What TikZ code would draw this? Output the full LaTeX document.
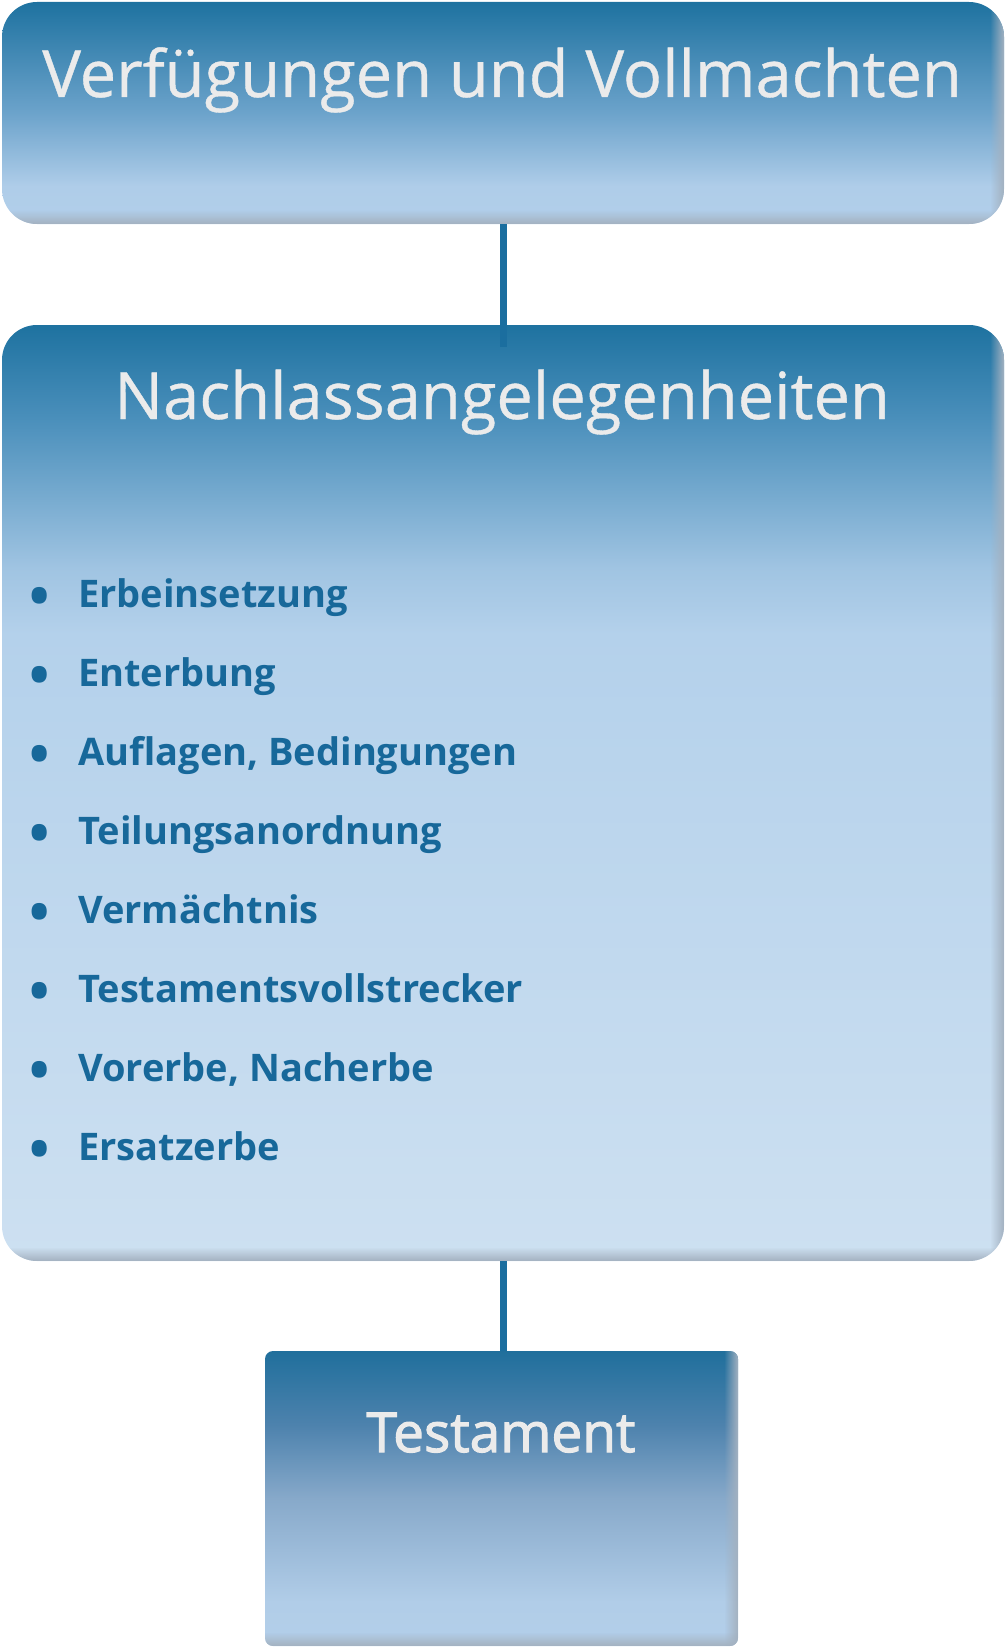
\documentclass[tikz,border=0pt]{standalone}
\usepackage{fontspec}
\setmainfont{Open Sans}
\newfontfamily\titlefont[FakeBold=0.6]{Open Sans}
\newfontfamily\semibfont[FakeBold=2]{Open Sans}
\usetikzlibrary{fadings}

\definecolor{titlewhite}{HTML}{EBEBEB}
\definecolor{itemblue}{HTML}{17689A}
\definecolor{connblue}{HTML}{1B6E9F}
\definecolor{edgegray}{HTML}{A3B1C0}

\definecolor{ta}{HTML}{1E72A0}
\definecolor{tb}{HTML}{6CA3CB}
\definecolor{tc}{HTML}{AFCDE9}
\definecolor{td}{HTML}{B2CFEA}

\definecolor{na}{HTML}{1E72A0}
\definecolor{nb}{HTML}{4A8FBB}
\definecolor{nc}{HTML}{A0C4E2}
\definecolor{nd}{HTML}{B4D1EB}
\definecolor{ne}{HTML}{CDE0F1}

\definecolor{sa}{HTML}{206F9C}
\definecolor{sb}{HTML}{4D82AD}
\definecolor{sc}{HTML}{87A9CA}
\definecolor{sd}{HTML}{B1CDE8}
\definecolor{se}{HTML}{B3CFE9}

\pgfdeclareverticalshading{topshade}{100bp}{color(0bp)=(td); color(25bp)=(td); color(33.5bp)=(tc); color(50bp)=(tb); color(75bp)=(ta); color(100bp)=(ta)}
\pgfdeclareverticalshading{nachshade}{100bp}{color(0bp)=(ne); color(25bp)=(ne); color(58.5bp)=(nd); color(62bp)=(nc); color(70bp)=(nb); color(75bp)=(na); color(100bp)=(na)}
\pgfdeclareverticalshading{testshade}{100bp}{color(0bp)=(se); color(25bp)=(se); color(32.5bp)=(sd); color(50bp)=(sc); color(62.5bp)=(sb); color(75bp)=(sa); color(100bp)=(sa)}

\newcommand\edgeshade[2]{%
  \begin{scope}
    \clip[rounded corners=#2] (#1.south west) rectangle (#1.north east);
    \fill[edgegray, path fading=west] ([xshift=-14pt]#1.south east) rectangle (#1.north east);
    \fill[edgegray, path fading=north] ([yshift=14pt]#1.south west) rectangle (#1.south east);
  \end{scope}}

\begin{document}
\begin{tikzpicture}[x=1pt,y=-1pt,
  box/.style={inner sep=0pt, outer sep=0pt},
  title/.style={anchor=base, inner sep=0pt, text=titlewhite, font=\titlefont\fontsize{65}{78}\selectfont},
  subtitle/.style={anchor=base, inner sep=0pt, text=titlewhite, font=\semibfont\fontsize{55}{66}\selectfont},
  item/.style={anchor=base west, inner sep=0pt, text=itemblue, font=\bfseries\fontsize{38}{46}\selectfont},
  dot/.style={anchor=base, inner sep=0pt, text=itemblue, font=\bfseries\fontsize{54}{60}\selectfont},
  conn/.style={draw=connblue, line width=7pt}]
\useasboundingbox (0,0) rectangle (1006,1648);

\node[box, shading=topshade, rounded corners=35pt, minimum width=1002pt, minimum height=222pt] (vbox) at (503,113) {};
\node[box, shading=nachshade, rounded corners=35pt, minimum width=1002pt, minimum height=936pt] (nbox) at (503,793) {};
\node[box, shading=testshade, rounded corners=8pt, minimum width=473pt, minimum height=295pt] (tbox) at (501.5,1498.5) {};

\edgeshade{vbox}{35pt}
\edgeshade{nbox}{35pt}
\edgeshade{tbox}{8pt}

\draw[conn] (vbox.south) -- ([yshift=-22pt]nbox.north);
\draw[conn] (nbox.south) -- (nbox.south |- tbox.north);

\node[title] (vtext) at (502,97) {Verfügungen und Vollmachten};
\node[title] (ntext) at (502,419) {Nachlassangelegenheiten};
\node[subtitle] (ttext) at (501,1452) {Testament};

\foreach \t [count=\i from 0] in {Erbeinsetzung, Enterbung, {Auflagen, Bedingungen}, Teilungsanordnung, Vermächtnis, Testamentsvollstrecker, {Vorerbe, Nacherbe}, Ersatzerbe}{
  \node[dot] (dot\i) at (40,{615+79*\i}) {•};
  \node[item] (item\i) at (78,{607+79*\i}) {\t};
}
\end{tikzpicture}
\end{document}
